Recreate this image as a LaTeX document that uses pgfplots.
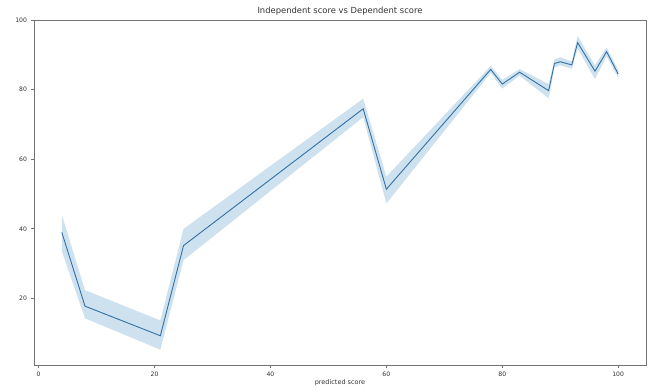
\documentclass[border=0pt]{standalone}
\usepackage{pgfplots}
\pgfplotsset{compat=1.18}
\usepgfplotslibrary{fillbetween}
\usepackage{fontspec}
\setmainfont{DejaVu Sans}
\definecolor{tabblue}{HTML}{1F77B4}
\definecolor{linecol}{RGB}{50,112,165}
\definecolor{spine}{RGB}{115,115,115}
\definecolor{txt}{RGB}{50,50,50}

\pgfplotstableread{
x   y     lo    hi
4   39.0  33.6  44.0
8   17.8  14.3  22.4
21  9.3   5.3   13.7
25  35.2  31.0  40.0
56  74.5  72.1  77.4
60  51.4  47.3  55.0
78  85.8  84.8  86.8
80  81.6  80.3  82.8
83  85.0  84.0  85.9
88  79.7  77.5  81.6
89  87.5  86.3  88.6
90  88.0  87.0  89.3
92  87.1  86.0  88.1
93  93.5  91.8  95.4
96  85.3  83.0  87.0
98  90.9  89.6  92.1
100 84.5  83.4  85.6
}\data

\begin{document}
\begin{tikzpicture}
\begin{axis}[
  at={(34pt,25pt)}, anchor=south west,
  scale only axis, width=612pt, height=345pt,
  xmin=-0.8, xmax=104.8, ymin=0.9, ymax=100,
  xtick={0,20,40,60,80,100},
  ytick={20,40,60,80,100},
  xtick pos=bottom, ytick pos=left,
  tick align=outside, major tick length=3.5pt,
  axis line style={spine, line width=0.9pt},
  every tick/.style={spine, line width=0.8pt},
  /pgf/number format/assume math mode=true,
  tick label style={font=\fontsize{6.1}{7}\selectfont, text=txt},
  title={Independent score vs Dependent score},
  title style={font=\fontsize{8.4}{10}\selectfont, text=txt, at={(0.5,1)}, anchor=south, inner sep=0pt, yshift=-1.5pt},
  xlabel={predicted score},
  xlabel style={font=\fontsize{6.5}{8}\selectfont, text=txt, inner sep=0pt, yshift=0.5pt},
]
\addplot[draw=none, name path=hi, forget plot] table[x=x,y=hi]{\data};
\addplot[draw=none, name path=lo, forget plot] table[x=x,y=lo]{\data};
\addplot[fill=tabblue, fill opacity=0.22, draw=none] fill between[of=hi and lo];
\addplot[linecol, line width=0.9pt, mark=none] table[x=x,y=y]{\data};
\end{axis}
\path (0pt,0pt) rectangle (650pt,390pt);
\end{tikzpicture}
\end{document}
